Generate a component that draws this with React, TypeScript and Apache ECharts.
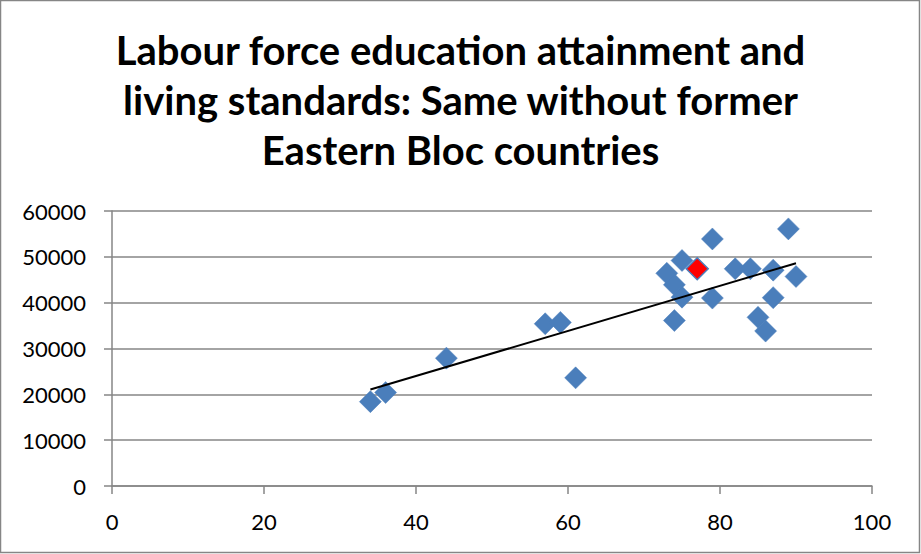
import React, { useEffect, useRef } from "react";
import * as echarts from "echarts";

const titleLines = [
  "Labour force education attainment and",
  "living standards: Same without former",
  "Eastern Bloc countries",
];

const eduShare = [34, 36, 44, 57, 59, 61, 89, 79, 75, 73, 82, 84, 87, 90, 74, 75, 79, 87, 74, 85, 86];
const gdpPerCapita = [18400, 20400, 27900, 35400, 35700, 23600, 56100, 53900, 49200, 46400, 47400, 47400, 47100, 45700, 43900, 41200, 41000, 41100, 36100, 36800, 33800];

const highlightEdu = [77];
const highlightGdp = [47400];

const xTicks = [0, 20, 40, 60, 80, 100];
const yTicks = [0, 10000, 20000, 30000, 40000, 50000, 60000];

export default function App() {
  const ref = useRef<HTMLDivElement>(null);
  useEffect(() => {
    if (!ref.current) return;
    const chart = echarts.init(ref.current, null, { renderer: "svg" });
    const allX = [...eduShare, ...highlightEdu];
    const allY = [...gdpPerCapita, ...highlightGdp];
    const n = allX.length;
    const mx = allX.reduce((a, b) => a + b, 0) / n;
    const my = allY.reduce((a, b) => a + b, 0) / n;
    let sxy = 0, sxx = 0;
    for (let i = 0; i < n; i++) {
      sxy += (allX[i] - mx) * (allY[i] - my);
      sxx += (allX[i] - mx) * (allX[i] - mx);
    }
    const slope = sxy / sxx;
    const icpt = my - slope * mx;
    const x0 = Math.min(...allX);
    const x1 = Math.max(...allX);
    const trend = [
      [x0, icpt + slope * x0],
      [x1, icpt + slope * x1],
    ];
    const font = "Lato, 'Open Sans', sans-serif";
    chart.setOption({
      animation: false,
      backgroundColor: "#ffffff",
      title: {
        text: titleLines.join("\n"),
        left: "center",
        top: 20,
        textStyle: {
          fontFamily: font,
          fontSize: 40,
          fontWeight: "bold",
          color: "#000000",
          lineHeight: 50,
        },
      },
      graphic: [
        {
          type: "rect",
          shape: { x: 0.5, y: 0.5, width: 919, height: 552 },
          style: { fill: "none", stroke: "#868686", lineWidth: 1.5 },
          silent: true,
        },
      ],
      grid: { left: 112, right: 49, top: 211, bottom: 68, containLabel: false },
      xAxis: {
        type: "value",
        min: 0,
        max: 100,
        interval: 20,
        axisLine: { show: true, lineStyle: { color: "#868686", width: 1.5 } },
        axisTick: { show: true, inside: false, length: 8, lineStyle: { color: "#868686", width: 1.5 } },
        splitLine: { show: false },
        axisLabel: {
          fontFamily: font,
          fontSize: 22,
          color: "#000000",
          margin: 24,
          formatter: (v: number) => (xTicks.includes(v) ? String(v) : ""),
        },
      },
      yAxis: {
        type: "value",
        min: 0,
        max: 60000,
        interval: 10000,
        axisLine: { show: true, lineStyle: { color: "#868686", width: 1.5 } },
        axisTick: { show: true, inside: false, length: 8, lineStyle: { color: "#868686", width: 1.5 } },
        splitLine: { show: true, lineStyle: { color: "#868686", width: 1.5 } },
        axisLabel: {
          fontFamily: font,
          fontSize: 22,
          color: "#000000",
          margin: 26,
          formatter: (v: number) => (yTicks.includes(v) ? String(v) : ""),
        },
      },
      series: [
        {
          type: "scatter",
          symbol: "diamond",
          symbolSize: 22,
          data: eduShare.map((x, i) => [x, gdpPerCapita[i]]),
          itemStyle: { color: "#4A7EBB", borderColor: "#4F81BD", borderWidth: 0.5, opacity: 1 },
          z: 3,
        },
        {
          type: "scatter",
          symbol: "diamond",
          symbolSize: 22,
          data: highlightEdu.map((x, i) => [x, highlightGdp[i]]),
          itemStyle: { color: "#FF0000", borderColor: "#4A7EBB", borderWidth: 1.5, opacity: 1 },
          z: 4,
        },
        {
          type: "line",
          data: trend,
          symbol: "none",
          lineStyle: { color: "#000000", width: 2 },
          z: 5,
        },
      ],
    });
    return () => chart.dispose();
  }, []);
  return (
    <div
      ref={ref}
      style={{ position: "fixed", left: 0, top: 0, width: 921, height: 554, background: "#fff" }}
    />
  );
}
